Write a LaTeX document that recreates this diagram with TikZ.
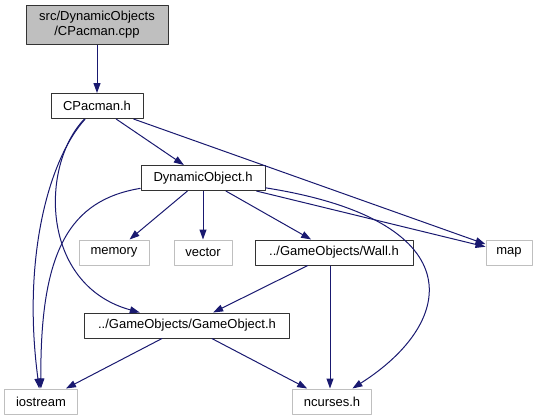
\documentclass[tikz,border=0pt]{standalone}
\usepackage{fontspec}
\setmainfont{Liberation Sans}
\usetikzlibrary{arrows.meta}
\definecolor{edgeblue}{HTML}{191970}
\definecolor{extgray}{HTML}{BFBFBF}
\definecolor{rootfill}{HTML}{BFBFBF}

\begin{document}
\begin{tikzpicture}[line width=1pt, line join=round, >={Triangle[length=10pt,width=7pt]}, x=1pt,y=-1pt,
  box/.style={draw=black!80, fill=white, minimum height=25pt, inner sep=0pt,
    font=\fontsize{13}{15}\selectfont},
  rootbox/.style={box, fill=rootfill, minimum height=39pt, align=center},
  extbox/.style={box, draw=extgray},
  dep/.style={->, draw=edgeblue}]
  \useasboundingbox (0,0) rectangle (536,416);

  \node[rootbox, minimum width=142pt] (cpp) at (97,24.5) {src/DynamicObjects\\/CPacman.cpp};
  \node[box, minimum width=92pt] (cpac) at (97,106) {CPacman.h};
  \node[box, minimum width=124pt] (dyn) at (203,178) {DynamicObject.h};
  \node[extbox, minimum width=70pt] (memory) at (114,252.5) {memory};
  \node[extbox, minimum width=58pt] (vector) at (203,252.5) {vector};
  \node[box, minimum width=158pt] (wall) at (334,252.5) {../GameObjects/Wall.h};
  \node[extbox, minimum width=46pt] (map) at (509,252.5) {map};
  \node[box, minimum width=205pt] (gobj) at (187,325.5) {../GameObjects/GameObject.h};
  \node[extbox, minimum width=73pt] (iostream) at (41,401.5) {iostream};
  \node[extbox, minimum width=79pt] (ncurses) at (332,401.5) {ncurses.h};

  \draw[dep] (cpp) -- (cpac);
  \draw[dep] (cpac) -- (dyn);
  \draw[dep] (cpac) -- (map);
  \draw[dep] (cpac) .. controls (48,160) and (22,260) .. (iostream);
  \draw[dep] (cpac) .. controls (40,165) and (40,285) .. (gobj);
  \draw[dep] (dyn) .. controls (70,200) and (40,250) .. (iostream);
  \draw[dep] (dyn) -- (memory);
  \draw[dep] (dyn) -- (vector);
  \draw[dep] (dyn) -- (wall);
  \draw[dep] (dyn) -- (map);
  \draw[dep] (dyn) .. controls (470,220) and (460,320) .. (ncurses);
  \draw[dep] (wall) -- (gobj);
  \draw[dep] (wall.south -| 330,0) -- (ncurses.north -| 330,0);
  \draw[dep] (gobj) -- (iostream);
  \draw[dep] (gobj) -- (ncurses);
\end{tikzpicture}
\end{document}
